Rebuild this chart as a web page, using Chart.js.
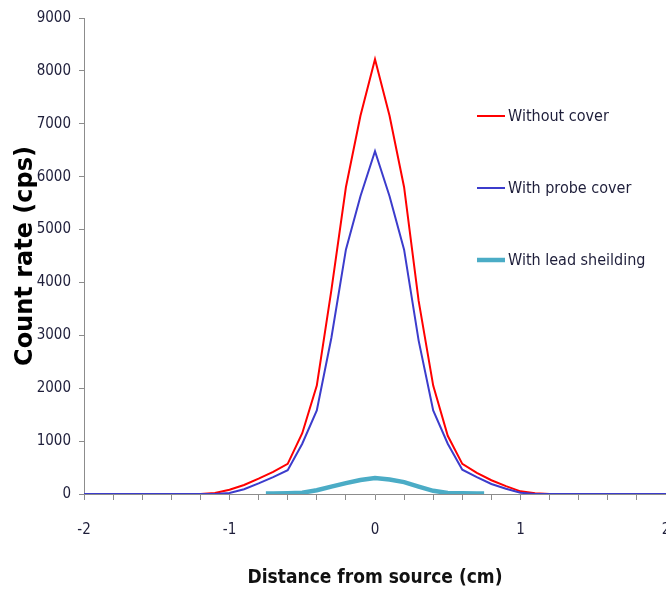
<!DOCTYPE html>
<html>
<head>
<meta charset="utf-8">
<script src="https://cdn.jsdelivr.net/npm/chart.js@4/dist/chart.umd.min.js"></script>
<style>
  html, body { margin: 0; padding: 0; background: #fff; overflow: hidden; }
  #wrap { position: relative; width: 666px; height: 593px; }
</style>
</head>
<body>
<div id="wrap"><canvas id="myChart"></canvas></div>
<script>
// distance from source (cm)
var distance = [-2.0, -1.9, -1.8, -1.7, -1.6, -1.5, -1.4, -1.3, -1.2, -1.1,
    -1.0, -0.9, -0.8, -0.7, -0.6, -0.5, -0.4, -0.3, -0.2, -0.1,
    0, 0.1, 0.2, 0.3, 0.4, 0.5, 0.6, 0.7, 0.8, 0.9,
    1.0, 1.1, 1.2, 1.3, 1.4, 1.5, 1.6, 1.7, 1.8, 1.9, 2.0];

var withoutCover = [0, 0, 0, 0, 0, 0, 0, 0, 0, 20,
    80, 170, 290, 420, 570, 1150, 2050, 3850, 5800, 7150,
    8220, 7150, 5800, 3650, 2050, 1100, 570, 400, 260, 150,
    50, 15, 0, 0, 0, 0, 0, 0, 0, 0, 0];

var withProbeCover = [0, 0, 0, 0, 0, 0, 0, 0, 0, 0,
    20, 90, 200, 320, 450, 950, 1580, 2950, 4620, 5630,
    6480, 5630, 4620, 2900, 1580, 950, 460, 320, 190, 100,
    25, 0, 0, 0, 0, 0, 0, 0, 0, 0, 0];

// lead shielding series only covers the middle part
var leadDistance = [-0.75, -0.7, -0.6, -0.5, -0.4, -0.3, -0.2, -0.1, 0,
    0.1, 0.2, 0.3, 0.4, 0.5, 0.6, 0.7, 0.75];
var withLead = [10, 10, 15, 25, 70, 140, 205, 265, 300,
    275, 225, 140, 60, 20, 15, 10, 10];

var yTicks = [0, 9000, 1000]; // min, max, step
var xTicks = [-2, 2, 0.2];

var seriesNames = ['Without cover', 'With probe cover', 'With lead sheilding'];

var narrow = "'Liberation Sans Narrow', 'DejaVu Sans Condensed', sans-serif";
var textColor = '#1e1e3a';
var axisGray = '#8c8c8c';

var pairs = (xs, ys) => xs.map((x, i) => ({x: x, y: ys[i]}));

// legend drawn inside the plot, like the spreadsheet one
var sideLegend = {
    id: 'sideLegend',
    afterDatasetsDraw: (chart) => {
        var ctx = chart.ctx;
        var rows = [116, 188, 260];
        ctx.save();
        chart.data.datasets.forEach((ds, i) => {
            var y = rows[i];
            ctx.strokeStyle = ds.borderColor;
            ctx.lineWidth = ds.borderWidth;
            ctx.beginPath();
            ctx.moveTo(477, y);
            ctx.lineTo(505, y);
            ctx.stroke();
            ctx.fillStyle = textColor;
            ctx.font = '16px ' + narrow;
            ctx.textBaseline = 'middle';
            ctx.textAlign = 'left';
            ctx.fillText(ds.label, 508, y + 1);
        });
        ctx.restore();
    }
};

var ctx = document.getElementById('myChart').getContext('2d');
var chart = new Chart(ctx, {
    type: 'line',
    data: {
        datasets: [
            {
                label: seriesNames[0],
                data: pairs(distance, withoutCover),
                borderColor: '#ff0000',
                borderWidth: 2,
                pointRadius: 0,
                order: 3
            },
            {
                label: seriesNames[1],
                data: pairs(distance, withProbeCover),
                borderColor: '#3c3ccc',
                borderWidth: 2,
                pointRadius: 0,
                order: 2
            },
            {
                label: seriesNames[2],
                data: pairs(leadDistance, withLead),
                borderColor: '#4bacc6',
                borderWidth: 4.5,
                pointRadius: 0,
                order: 1
            }
        ]
    },
    options: {
        responsive: true,
        maintainAspectRatio: false,
        animation: false,
        layout: { padding: { top: 18, left: 0, right: 0, bottom: 0 } },
        plugins: {
            legend: { display: false },
            tooltip: { enabled: false }
        },
        scales: {
            x: {
                type: 'linear',
                min: xTicks[0],
                max: xTicks[1],
                afterFit: (scale) => {
                    scale.height = 99;
                    scale.paddingLeft = 0;
                    scale.paddingRight = 0;
                },
                border: { display: true, color: axisGray, width: 1 },
                grid: { drawOnChartArea: false, drawTicks: true, tickLength: 6, color: axisGray },
                ticks: {
                    stepSize: xTicks[2],
                    autoSkip: false,
                    maxRotation: 0,
                    padding: 21,
                    color: textColor,
                    font: { family: narrow, size: 15 },
                    callback: (v) => Math.abs(v - Math.round(v)) < 1e-6 ? String(Math.round(v) || 0) : ''
                },
                title: {
                    display: true,
                    text: 'Distance from source (cm)',
                    color: '#111',
                    font: { family: narrow, size: 19, weight: 'bold' },
                    padding: { top: 0, bottom: 4 }
                }
            },
            y: {
                min: yTicks[0],
                max: yTicks[1],
                afterFit: (scale) => {
                    scale.width = 84;
                    scale.paddingTop = 0;
                    scale.paddingBottom = 0;
                },
                border: { display: true, color: axisGray, width: 1 },
                grid: { drawOnChartArea: false, drawTicks: true, tickLength: 5, color: axisGray },
                ticks: {
                    stepSize: yTicks[2],
                    padding: 8,
                    color: textColor,
                    font: { family: narrow, size: 15 },
                    callback: (v) => String(v)
                },
                title: {
                    display: true,
                    text: 'Count rate (cps)',
                    color: '#000',
                    font: { family: "'DejaVu Sans', sans-serif", size: 24, weight: 'bold' },
                    padding: { top: 11, bottom: 0 }
                }
            }
        }
    },
    plugins: [sideLegend]
});
</script>
</body>
</html>
